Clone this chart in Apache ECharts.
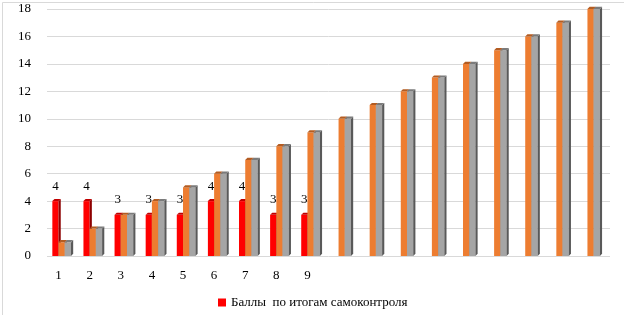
<!DOCTYPE html>
<html>
<head>
<meta charset="utf-8">
<script src="https://cdn.jsdelivr.net/npm/echarts@6/dist/echarts.min.js"></script>
<style>
  html, body { margin: 0; padding: 0; background: #fff; }
  #chart-container { width: 624px; height: 315px; }
</style>
</head>
<body>
<div id="chart-container"></div>
<script>
// chart data
const categories = ["1", "2", "3", "4", "5", "6", "7", "8", "9", "10", "11", "12", "13", "14", "15", "16", "17", "18"];
const shownLabelCount = 9;
const selfCheckName = "Баллы  по итогам самоконтроля";
const selfCheckValues = [4, 4, 3, 3, 3, 4, 4, 3, 3];
const orangeValues = [1, 2, 3, 4, 5, 6, 7, 8, 9, 10, 11, 12, 13, 14, 15, 16, 17, 18];
const grayValues = [1, 2, 3, 4, 5, 6, 7, 8, 9, 10, 11, 12, 13, 14, 15, 16, 17, 18];
const yTicks = { min: 0, max: 18, interval: 2 };

const serif = '"Liberation Serif", "Times New Roman", serif';

// draws one pseudo-3D column, slot = position inside the group (0..2)
function bar3d(slot, front, side, topc, withLabel) {
  return function (params, api) {
    const i = api.value(0);
    const v = api.value(1);
    const base = api.coord([i, 0]);
    const top = api.coord([i, v]);
    const band = api.size([1, 0])[0];
    const w = band * 0.2;
    const d = band * 0.07;
    const x0 = base[0] + (slot - 1) * w;
    const yT = top[1], yB = base[1];
    const children = [
      { type: "rect", shape: { x: x0, y: yT, width: w, height: yB - yT }, style: { fill: front } },
      { type: "polygon", shape: { points: [[x0 + w, yT], [x0 + w + d, yT - d], [x0 + w + d, yB - d], [x0 + w, yB]] }, style: { fill: side } },
      { type: "polygon", shape: { points: [[x0, yT], [x0 + d, yT - d], [x0 + w + d, yT - d], [x0 + w, yT]] }, style: { fill: topc } }
    ];
    if (withLabel) {
      children.push({
        type: "text",
        style: { text: String(v), x: x0 + w / 2, y: yT - 15, align: "center", verticalAlign: "middle", font: "13px " + serif, fill: "#000" }
      });
    }
    return { type: "group", children: children };
  };
}

const chart = echarts.init(document.getElementById("chart-container"));

const option = {
  animation: false,
  backgroundColor: "#fff",
  graphic: [{
    type: "rect", left: 0, top: 0,
    shape: { x: 0.5, y: 0.5, width: 623, height: 314 },
    style: { fill: "none", stroke: "#d9d9d9", lineWidth: 1 },
    silent: true
  }],
  // grid 0 holds the columns, grid 1 (shifted back like the 3D wall) holds the gridlines
  grid: [
    { left: 43, right: 21, top: 9, bottom: 59 },
    { left: 47, right: 14, top: 9, bottom: 59 }
  ],
  legend: {
    data: [selfCheckName],
    left: 213, top: 291,
    icon: "rect", itemWidth: 8, itemHeight: 8, itemGap: 4,
    textStyle: { fontFamily: serif, fontSize: 13, color: "#000" }
  },
  xAxis: [
    {
      type: "category",
      gridIndex: 0,
      data: categories,
      axisLine: { show: false },
      axisTick: { show: false },
      axisLabel: {
        margin: 13, color: "#000", fontFamily: serif, fontSize: 13, interval: 0,
        formatter: (val, idx) => (idx < shownLabelCount ? val : "")
      }
    },
    {
      type: "value", gridIndex: 1, show: false, min: 0, max: 1
    }
  ],
  yAxis: [
    {
      type: "value",
      gridIndex: 0,
      min: yTicks.min, max: yTicks.max, interval: yTicks.interval,
      axisLine: { show: false },
      axisTick: { show: false },
      splitLine: { show: false },
      axisLabel: { margin: 12, color: "#000", fontFamily: serif, fontSize: 13 }
    },
    {
      type: "value",
      gridIndex: 1,
      min: yTicks.min, max: yTicks.max, interval: yTicks.interval,
      axisLine: { show: false },
      axisTick: { show: false },
      axisLabel: { show: false },
      splitLine: { lineStyle: { color: "#d9d9d9" } }
    }
  ],
  series: [
    {
      name: selfCheckName, type: "custom",
      xAxisIndex: 0, yAxisIndex: 0,
      itemStyle: { color: "#ff0000" },
      renderItem: bar3d(0, "#ff0000", "#8e0000", "#c00000", true),
      data: selfCheckValues.map((v, i) => [i, v])
    },
    {
      name: "Ряд2", type: "custom",
      xAxisIndex: 0, yAxisIndex: 0,
      itemStyle: { color: "#ed7d31" },
      renderItem: bar3d(1, "#ed7d31", "#a9561d", "#b35c22", false),
      data: orangeValues.map((v, i) => [i, v])
    },
    {
      name: "Ряд3", type: "custom",
      xAxisIndex: 0, yAxisIndex: 0,
      itemStyle: { color: "#a5a5a5" },
      renderItem: bar3d(2, "#a5a5a5", "#595959", "#7b7b7b", false),
      data: grayValues.map((v, i) => [i, v])
    }
  ]
};

chart.setOption(option);
</script>
</body>
</html>
